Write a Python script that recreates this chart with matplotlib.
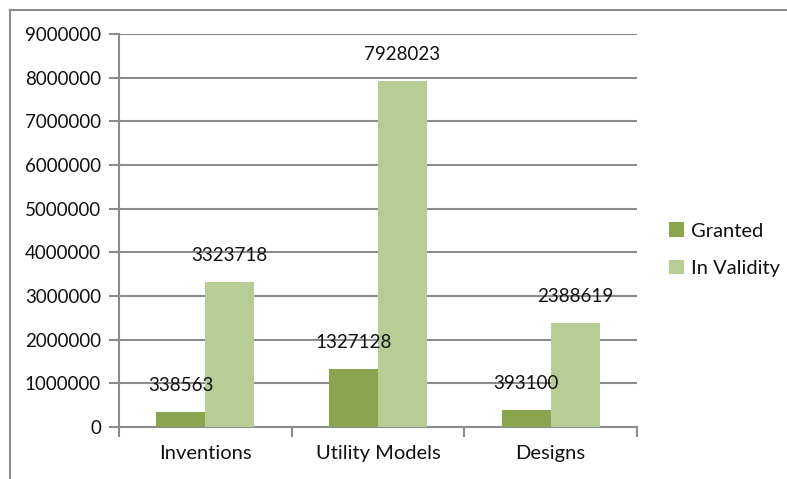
import matplotlib
matplotlib.use("Agg")
import matplotlib.pyplot as plt
from matplotlib.lines import Line2D
import numpy as np

categories = ["Inventions", "Utility Models", "Designs"]
granted = [338563, 1327128, 393100]
in_validity = [3323718, 7928023, 2388619]
series_names = ["Granted", "In Validity"]
y_ticks = [0, 1000000, 2000000, 3000000, 4000000, 5000000, 6000000, 7000000, 8000000, 9000000]

plt.rcParams["font.family"] = ["Lato", "DejaVu Sans"]
grey = "#8c8c8c"
txt = "#111111"
c_granted = "#8aa54e"
c_valid = "#b8cd96"

fig = plt.figure(figsize=(7.87, 4.79), dpi=100)
ax = fig.add_axes([119 / 787, 1 - 427 / 479, (637 - 119) / 787, (427 - 34) / 479])

x = np.arange(len(categories))
w = 0.283
b1 = ax.bar(x - w / 2, granted, w, color=c_granted, label=series_names[0], zorder=3)
b2 = ax.bar(x + w / 2, in_validity, w, color=c_valid, label=series_names[1], zorder=3)

for bars, vals in [(b1, granted), (b2, in_validity)]:
    for r, v in zip(bars, vals):
        ax.annotate(str(v), (r.get_x() + r.get_width() / 2, v), xytext=(0, 19),
                    textcoords="offset points", ha="center", va="center",
                    fontsize=13.5, color=txt, zorder=4)

ax.set_xlim(-0.5, 2.5)
ax.set_ylim(0, 9000000)
ax.set_yticks(y_ticks)
ax.set_yticklabels([str(t) for t in y_ticks])
ax.yaxis.grid(True, color=grey, linewidth=1.5, zorder=0)
ax.set_xticks(x)
ax.set_xticklabels(categories)
ax.set_xticks([-0.5, 0.5, 1.5, 2.5], minor=True)
ax.tick_params(axis="x", which="major", length=0, pad=13, labelsize=14.5, labelcolor=txt)
ax.tick_params(axis="x", which="minor", length=7, width=1.5, color=grey, direction="out")
ax.tick_params(axis="y", length=7, width=1.5, color=grey, direction="out", pad=6,
               labelsize=13.5, labelcolor=txt)

for s in ["top", "right"]:
    ax.spines[s].set_visible(False)
for s in ["left", "bottom"]:
    ax.spines[s].set_color(grey)
    ax.spines[s].set_linewidth(1.5)

leg = ax.legend(loc="upper left", bbox_to_anchor=(651 / 787, 1 - 204 / 479),
                bbox_transform=fig.transFigure, frameon=False, fontsize=14.5,
                handlelength=0.75, handleheight=0.75, handletextpad=0.35, labelspacing=1.0)
for t in leg.get_texts():
    t.set_color(txt)

# outer chart frame
fig.add_artist(Line2D([10 / 787, 1], [1 - 10 / 479, 1 - 10 / 479], color=grey, linewidth=1.5,
                      transform=fig.transFigure))
fig.add_artist(Line2D([10 / 787, 10 / 787], [0, 1 - 10 / 479], color=grey, linewidth=1.5,
                      transform=fig.transFigure))

fig.savefig("out.png", dpi=100)
